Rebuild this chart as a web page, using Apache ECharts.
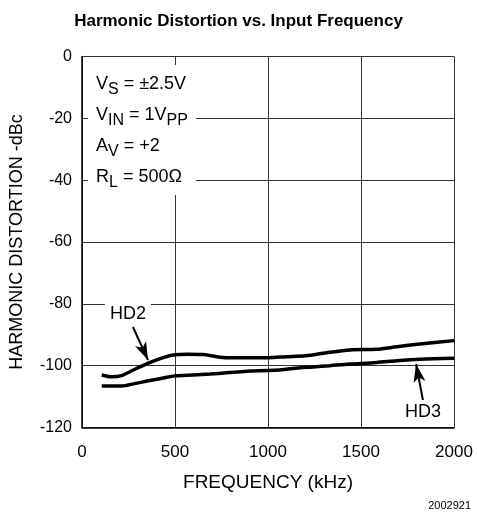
<!DOCTYPE html>
<html><head><meta charset="utf-8">
<script src="https://cdn.jsdelivr.net/npm/echarts@6/dist/echarts.min.js"></script>
<style>html,body{margin:0;padding:0;background:#fff}#c{width:477px;height:525px}</style>
</head><body><div id="c"></div>
<script>
var hd2Freq = [106,160,213,276,357,437,500,563,652,724,778,886,1003,1096,1203,1315,1441,1584,1692,1817,2000];
var hd2Db   = [-103.0,-103.6,-103.2,-101.4,-99.2,-97.4,-96.5,-96.3,-96.4,-97.1,-97.4,-97.4,-97.4,-97.1,-96.8,-95.8,-94.9,-94.7,-93.9,-93.0,-91.9];
var hd3Freq = [106,213,276,357,437,500,599,688,778,886,1003,1061,1133,1243,1333,1441,1584,1692,1817,2000];
var hd3Db   = [-106.6,-106.6,-105.9,-104.9,-104.0,-103.3,-103.0,-102.7,-102.3,-101.8,-101.6,-101.4,-100.9,-100.4,-100.0,-99.5,-99.0,-98.4,-97.9,-97.6];
var xTicks = [0,500,1000,1500,2000];
var yTicks = [-120,-100,-80,-60,-40,-20,0];
var hd2Arrow = [[274,-87.5],[355,-98.2]];
var hd3Arrow = [[1833,-111.1],[1796,-99.5]];
var hd2LabelPos = [247,-83.3];
var hd3LabelPos = [1833,-115];

function pairs(xs, ys){ return xs.map(function(x,i){return [x, ys[i]];}); }
var F = 'Liberation Sans, Arial, sans-serif';
var chart = echarts.init(document.getElementById('c'), null, {renderer:'canvas'});
var lineStyle = {color:'#000', width:3.5};
chart.setOption({
  animation:false,
  backgroundColor:'#fff',
  title:{text:'Harmonic Distortion vs. Input Frequency', left:'center', top:8,
    textStyle:{fontFamily:F, fontSize:17, fontWeight:'bold', color:'#000'}},
  grid:{left:82, top:56.5, width:372, height:371, containLabel:false},
  xAxis:{type:'value', min:0, max:2000, interval:500,
    name:'FREQUENCY (kHz)', nameLocation:'middle', nameGap:46,
    nameTextStyle:{fontFamily:F, fontSize:19, color:'#000'},
    axisLine:{show:true, onZero:false, lineStyle:{color:'#000', width:1.5}},
    axisTick:{show:false},
    axisLabel:{fontFamily:F, fontSize:17, color:'#000', margin:16,
      formatter:function(v){return xTicks.indexOf(v)>=0? String(v):'';}},
    splitLine:{show:true, lineStyle:{color:'#333', width:1}}},
  yAxis:{type:'value', min:-120, max:0, interval:20,
    name:'HARMONIC DISTORTION -dBc', nameLocation:'middle', nameGap:56, nameRotate:90,
    nameTextStyle:{fontFamily:F, fontSize:18, color:'#000'},
    axisLine:{show:true, onZero:false, lineStyle:{color:'#000', width:1.5}},
    axisTick:{show:false},
    axisLabel:{fontFamily:F, fontSize:16, color:'#000', margin:10,
      formatter:function(v){return yTicks.indexOf(v)>=0? String(v):'';}},
    splitLine:{show:true, lineStyle:{color:'#333', width:1}}},
  series:[
    {name:'HD2', type:'line', data:pairs(hd2Freq,hd2Db), smooth:0.3, showSymbol:false, lineStyle:lineStyle, z:5,
      markLine:{silent:true, symbol:['none','arrow'], symbolSize:[9,18], label:{show:false},
        lineStyle:{color:'#000', width:2, type:'solid'},
        data:[[{coord:hd2Arrow[0]},{coord:hd2Arrow[1]}]]},
      markPoint:{silent:true, symbol:'rect', symbolSize:[46,22], itemStyle:{color:'#fff'},
        data:[{coord:hd2LabelPos, label:{show:true, formatter:'HD2', fontFamily:F, fontSize:18, color:'#000'}}]}},
    {name:'HD3', type:'line', data:pairs(hd3Freq,hd3Db), smooth:0.3, showSymbol:false, lineStyle:lineStyle, z:5,
      markLine:{silent:true, symbol:['none','arrow'], symbolSize:[9,18], label:{show:false},
        lineStyle:{color:'#000', width:2, type:'solid'},
        data:[[{coord:hd3Arrow[0]},{coord:hd3Arrow[1]}]]},
      markPoint:{silent:true, symbol:'rect', symbolSize:[42,20], itemStyle:{color:'#fff'},
        data:[{coord:hd3LabelPos, label:{show:true, formatter:'HD3', fontFamily:F, fontSize:18, color:'#000'}}]}}
  ],
  graphic:[
    {type:'rect', left:88, top:65, shape:{width:108, height:130}, style:{fill:'#fff'}, z:10},
    {type:'text', left:96, top:70, z:11, style:{
      text:'{m|V}{s|S}{m| = ±2.5V}\n{m|V}{s|IN}{m| = 1V}{s|PP}\n{m|A}{s|V}{m| = +2}\n{m|R}{s|L}{m| = 500Ω}',
      rich:{m:{fontFamily:F, fontSize:18, fill:'#000', lineHeight:31},
            s:{fontFamily:F, fontSize:16, fill:'#000', lineHeight:31, padding:[12,0,0,0]}},
      fill:'#000'}},
    {type:'text', right:6, top:500, style:{text:'2002921', fontFamily:F, fontSize:11, fill:'#000'}}
  ]
});
</script></body></html>
